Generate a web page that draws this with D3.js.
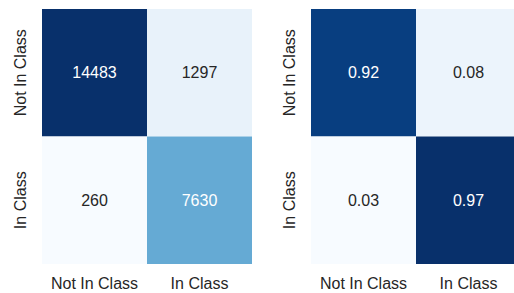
<!DOCTYPE html>
<html>
<head>
<meta charset="utf-8">
<script src="https://cdn.jsdelivr.net/npm/d3@7"></script>
<style>
  body { margin: 0; background: #fff; }
  svg { display: block; font-family: "Liberation Sans", Arial, sans-serif; }
</style>
</head>
<body>
<div class="container"></div>
<script>
const classes = ['Not In Class', 'In Class'];
const counts = [
    [14483, 1297],
    [260, 7630],
];
const rates = [
    [0.92, 0.08],
    [0.03, 0.97],
];

const width = 514;
const height = 293;
const panelW = 210;
const panelH = 255;
const panelTop = 9;
const fontSize = 16;

// matplotlib "Blues", linear between the brewer stops
const bluesStops = ['#f7fbff', '#deebf7', '#c6dbef', '#9ecae1', '#6baed6',
    '#4292c6', '#2171b5', '#08519c', '#08306b'];
const blues = d3.scaleLinear()
    .domain(d3.range(bluesStops.length).map(i => i / (bluesStops.length - 1)))
    .range(bluesStops)
    .interpolate(d3.interpolateRgb);

const svg = d3.select('.container')
    .append('svg')
    .attr('width', width)
    .attr('height', height);

function drawMatrix(matrix, left, fmt) {
    const flat = matrix.flat();
    const norm = d3.scaleLinear().domain(d3.extent(flat)).range([0, 1]);

    const x = d3.scaleBand().domain(d3.range(classes.length)).range([left, left + panelW]);
    const y = d3.scaleBand().domain(d3.range(classes.length)).range([panelTop, panelTop + panelH]);

    const cells = matrix.flatMap((row, i) => row.map((v, j) => ({ i, j, v })));
    const g = svg.append('g');

    g.selectAll('rect')
        .data(cells)
        .enter()
        .append('rect')
        .attr('x', d => x(d.j))
        .attr('y', d => y(d.i))
        .attr('width', x.bandwidth())
        .attr('height', y.bandwidth())
        .attr('fill', d => blues(norm(d.v)));

    g.selectAll('.val')
        .data(cells)
        .enter()
        .append('text')
        .attr('class', 'val')
        .attr('x', d => x(d.j) + x.bandwidth() / 2)
        .attr('y', d => y(d.i) + y.bandwidth() / 2)
        .attr('text-anchor', 'middle')
        .attr('dominant-baseline', 'central')
        .attr('font-size', fontSize)
        .attr('fill', d => norm(d.v) > 0.5 ? '#ffffff' : '#262626')
        .text(d => fmt(d.v));

    // x tick labels
    g.selectAll('.xlab')
        .data(classes)
        .enter()
        .append('text')
        .attr('class', 'xlab')
        .attr('x', (d, i) => x(i) + x.bandwidth() / 2)
        .attr('y', panelTop + panelH + 19)
        .attr('text-anchor', 'middle')
        .attr('dominant-baseline', 'central')
        .attr('font-size', fontSize)
        .attr('fill', '#262626')
        .text(d => d);

    // y tick labels, rotated
    g.selectAll('.ylab')
        .data(classes)
        .enter()
        .append('text')
        .attr('class', 'ylab')
        .attr('transform', (d, i) => `translate(${left - 22},${y(i) + y.bandwidth() / 2}) rotate(-90)`)
        .attr('text-anchor', 'middle')
        .attr('dominant-baseline', 'central')
        .attr('font-size', fontSize)
        .attr('fill', '#262626')
        .text(d => d);
}

drawMatrix(counts, 42, d3.format('d'));
drawMatrix(rates, 311, d3.format('.2f'));
</script>
</body>
</html>
